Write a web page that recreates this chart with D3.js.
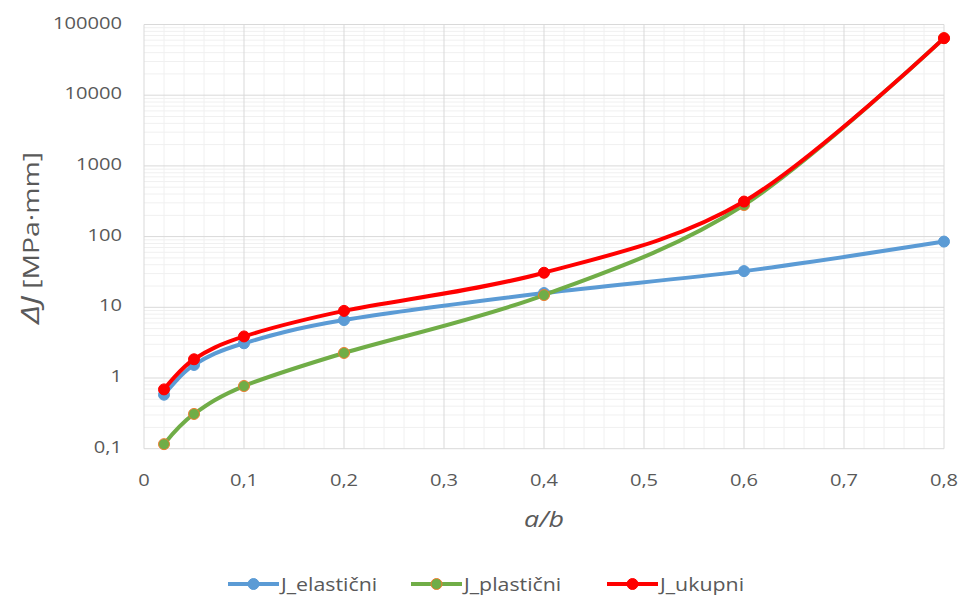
<!DOCTYPE html>
<html>
<head>
<meta charset="utf-8">
<script src="https://cdn.jsdelivr.net/npm/d3@7"></script>
<style>
  html, body { margin: 0; padding: 0; background: #fff; }
  svg { display: block; font-family: "Open Sans", "Noto Sans", sans-serif; }
</style>
</head>
<body>
<svg id="chart" width="959" height="604"></svg>
<script>
// ---- data ----
const xValues = [0.02, 0.05, 0.1, 0.2, 0.4, 0.6, 0.8];
const jElastic = [0.58, 1.53, 3.1, 6.6, 15.9, 32.5, 85];
const jPlastic = [0.116, 0.31, 0.77, 2.26, 14.9, 280, 64000];
const jTotal = [0.69, 1.84, 3.87, 8.9, 30.8, 313, 64100];
const seriesNames = ["J_elastični", "J_plastični", "J_ukupni"];
const xTickValues = [0, 0.1, 0.2, 0.3, 0.4, 0.5, 0.6, 0.7, 0.8];
const xTickLabels = ["0", "0,1", "0,2", "0,3", "0,4", "0,5", "0,6", "0,7", "0,8"];
const yTickValues = [0.1, 1, 10, 100, 1000, 10000, 100000];
const yTickLabels = ["0,1", "1", "10", "100", "1000", "10000", "100000"];

// ---- layout ----
const svg = d3.select("#chart");
const plot = { left: 144, right: 944, top: 24.5, bottom: 448.7 };
const SX = 1.22; // horizontal text stretch seen in the reference

const x = d3.scaleLinear().domain([0, 0.8]).range([plot.left, plot.right]);
const y = d3.scaleLog().domain([0.1, 100000]).range([plot.bottom, plot.top]);

const colors = ["#5B9BD5", "#70AD47", "#FF0000"];
const markerStroke = ["#5B9BD5", "#ED7D31", "#FF0000"];

// ---- gridlines ----
const grid = svg.append("g");
d3.range(0, 41).map(i => i * 0.02).forEach(v => {
  if (Math.abs(v * 10 - Math.round(v * 10)) < 1e-9) return;
  grid.append("line").attr("x1", x(v)).attr("x2", x(v))
    .attr("y1", plot.top).attr("y2", plot.bottom)
    .attr("stroke", "#F0F0F0").attr("stroke-width", 1);
});
for (let d = -1; d < 5; d++) {
  for (let m = 2; m <= 9; m++) {
    const v = m * Math.pow(10, d);
    grid.append("line").attr("x1", plot.left).attr("x2", plot.right)
      .attr("y1", y(v)).attr("y2", y(v))
      .attr("stroke", "#F0F0F0").attr("stroke-width", 1);
  }
}
xTickValues.forEach(v => {
  grid.append("line").attr("x1", x(v)).attr("x2", x(v))
    .attr("y1", plot.top).attr("y2", plot.bottom)
    .attr("stroke", "#D9D9D9").attr("stroke-width", 1);
});
yTickValues.forEach(v => {
  grid.append("line").attr("x1", plot.left).attr("x2", plot.right)
    .attr("y1", y(v)).attr("y2", y(v))
    .attr("stroke", "#D9D9D9").attr("stroke-width", 1);
});

// ---- text helpers ----
function stretchedText(g, px, py, str, anchor, size, opts = {}) {
  return g.append("text")
    .attr("transform", `translate(${px},${py}) scale(${SX},1)`)
    .attr("text-anchor", anchor)
    .attr("font-size", size)
    .attr("font-style", opts.italic ? "italic" : "normal")
    .attr("fill", opts.fill || "#595959")
    .text(str);
}
const axisG = svg.append("g");
yTickValues.forEach((v, i) => {
  stretchedText(axisG, 122, y(v) + 4, yTickLabels[i], "end", 16.5);
});
xTickValues.forEach((v, i) => {
  stretchedText(axisG, x(v), 486, xTickLabels[i], "middle", 16.5);
});

stretchedText(axisG, (plot.left + plot.right) / 2, 527, "a/b", "middle", 22, { italic: true });

const yt = svg.append("text")
  .attr("transform", `translate(39,238) rotate(-90)`)
  .attr("text-anchor", "middle")
  .attr("fill", "#595959")
  .attr("textLength", 172)
  .attr("lengthAdjust", "spacingAndGlyphs");
yt.append("tspan").attr("font-size", 25).attr("font-style", "italic").text("ΔJ");
yt.append("tspan").attr("font-size", 21).text(" [MPa·mm]");

// ---- series ----
const seriesData = [jElastic, jPlastic, jTotal];
const line = d3.line()
  .x(d => x(d[0])).y(d => y(d[1]))
  .curve(d3.curveCardinal.tension(0));

seriesData.forEach((vals, si) => {
  const pts = xValues.map((xv, i) => [xv, vals[i]]);
  const g = svg.append("g");
  g.append("path").datum(pts).attr("d", line)
    .attr("fill", "none").attr("stroke", colors[si])
    .attr("stroke-width", 4).attr("stroke-linecap", "round");
  g.selectAll("circle").data(pts).join("circle")
    .attr("cx", d => x(d[0])).attr("cy", d => y(d[1]))
    .attr("r", 5.5).attr("fill", colors[si])
    .attr("stroke", markerStroke[si]).attr("stroke-width", 1);
});

// ---- legend ----
const legend = svg.append("g");
const legendStarts = [228, 411, 607];
seriesNames.forEach((name, si) => {
  const lx = legendStarts[si], ly = 584;
  legend.append("line").attr("x1", lx).attr("x2", lx + 51)
    .attr("y1", ly).attr("y2", ly)
    .attr("stroke", colors[si]).attr("stroke-width", 4);
  legend.append("circle").attr("cx", lx + 25.5).attr("cy", ly).attr("r", 5.5)
    .attr("fill", colors[si]).attr("stroke", markerStroke[si]).attr("stroke-width", 1);
  stretchedText(legend, lx + 53, ly + 6.5, name, "start", 17.5);
});
</script>
</body>
</html>
